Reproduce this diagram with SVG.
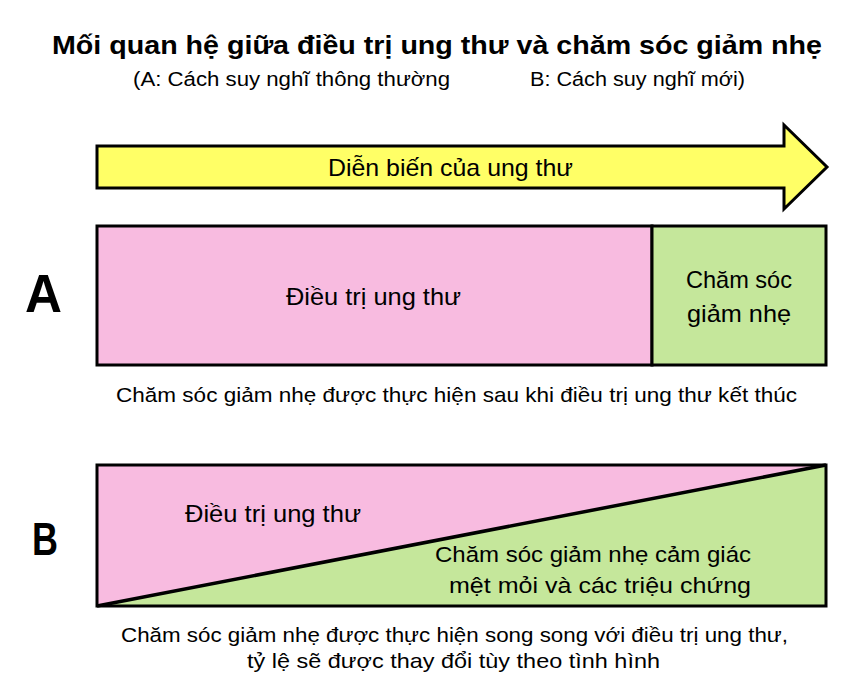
<svg xmlns="http://www.w3.org/2000/svg" width="859" height="688" viewBox="0 0 859 688">
<style>
text{font-family:"Liberation Sans",Arial,sans-serif;fill:#000;}
.t{font-weight:bold;font-size:25px;}
.s{font-size:20px;}
.b{font-size:24px;}
.b2{font-size:22.5px;}
.c{font-size:21px;}
.big{font-weight:bold;}
.box{stroke:#000;stroke-width:3;}
.pink{fill:#F8BBE0;}
.green{fill:#C5E79B;}
.yellow{fill:#FFFF66;}
</style>
<rect width="859" height="688" fill="#fff"/>
<g id="title">
<text class="t" x="52" y="54" textLength="770" lengthAdjust="spacingAndGlyphs">Mối quan hệ giữa điều trị ung thư và chăm sóc giảm nhẹ</text>
<text class="s" x="133" y="86" textLength="317" lengthAdjust="spacingAndGlyphs">(A: Cách suy nghĩ thông thường</text>
<text class="s" x="530" y="86" textLength="215" lengthAdjust="spacingAndGlyphs">B: Cách suy nghĩ mới)</text>
</g>
<g id="progress-arrow">
<polygon class="box yellow" points="97,146 784,146 784,125 827,167 784,209 784,188 97,188" stroke-linejoin="miter"/>
<text class="b" x="328" y="176" textLength="245" lengthAdjust="spacingAndGlyphs">Diễn biến của ung thư</text>
</g>
<g id="label-A">
<text class="big" x="25" y="312" font-size="54" textLength="37" lengthAdjust="spacingAndGlyphs">A</text>
</g>
<g id="A-treatment">
<rect class="box pink" x="97" y="226" width="555" height="139"/>
<text class="b" x="286" y="305" textLength="175" lengthAdjust="spacingAndGlyphs">Điều trị ung thư</text>
</g>
<g id="A-palliative">
<rect class="box green" x="652" y="226" width="174" height="139"/>
<text class="b" x="686" y="288" textLength="106" lengthAdjust="spacingAndGlyphs">Chăm sóc</text>
<text class="b" x="687" y="322" textLength="104" lengthAdjust="spacingAndGlyphs">giảm nhẹ</text>
</g>
<g id="A-caption">
<text class="c" x="116" y="402" textLength="681" lengthAdjust="spacingAndGlyphs">Chăm sóc giảm nhẹ được thực hiện sau khi điều trị ung thư kết thúc</text>
</g>
<g id="label-B">
<text class="big" x="32" y="555" font-size="46" textLength="26" lengthAdjust="spacingAndGlyphs">B</text>
</g>
<g id="B-treatment">
<polygon class="pink" points="97,465 826,465 97,606"/>
<text class="b" x="185" y="522" textLength="176" lengthAdjust="spacingAndGlyphs">Điều trị ung thư</text>
</g>
<g id="B-palliative">
<polygon class="green" points="826,465 826,606 97,606"/>
<text class="b2" x="435" y="562" textLength="316" lengthAdjust="spacingAndGlyphs">Chăm sóc giảm nhẹ cảm giác</text>
<text class="b2" x="449" y="593" textLength="302" lengthAdjust="spacingAndGlyphs">mệt mỏi và các triệu chứng</text>
</g>
<g id="connectors">
<rect x="97" y="465" width="729" height="141" fill="none" stroke="#000" stroke-width="3"/>
<line x1="97" y1="606" x2="826" y2="465" stroke="#000" stroke-width="3.5"/>
</g>
<g id="B-caption">
<text class="c" x="121" y="642" textLength="667" lengthAdjust="spacingAndGlyphs">Chăm sóc giảm nhẹ được thực hiện song song với điều trị ung thư,</text>
<text class="c" x="247" y="668" textLength="413" lengthAdjust="spacingAndGlyphs">tỷ lệ sẽ được thay đổi tùy theo tình hình</text>
</g>
</svg>
